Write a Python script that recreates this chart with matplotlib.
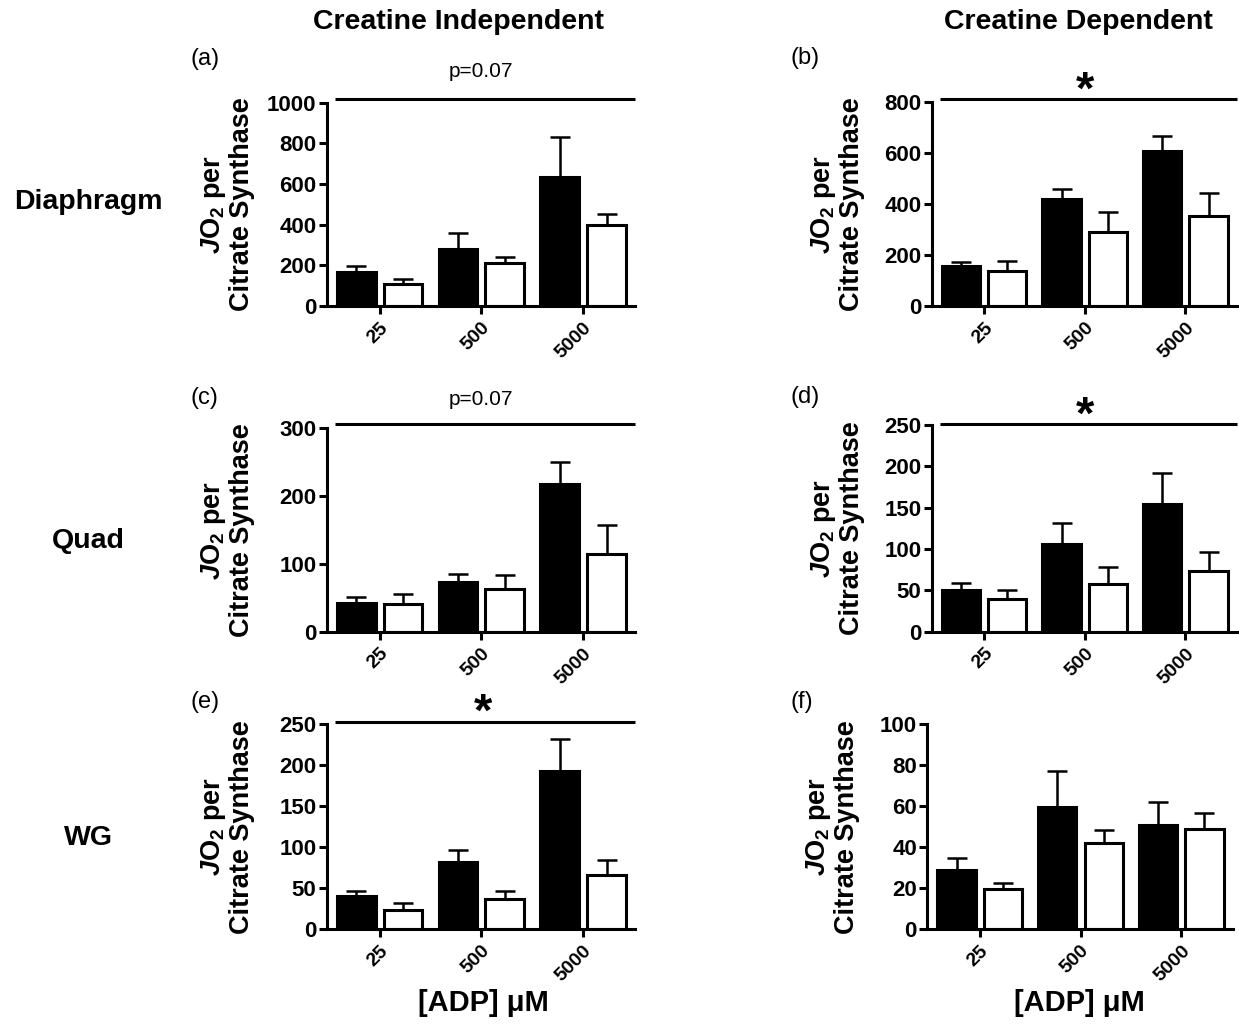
import matplotlib
matplotlib.use("Agg")
import matplotlib.pyplot as plt
import matplotlib.transforms as mtransforms
import numpy as np

plt.rcParams['font.family'] = ['Liberation Sans', 'DejaVu Sans']
plt.rcParams['mathtext.fontset'] = 'custom'
plt.rcParams['mathtext.rm'] = 'Liberation Sans:weight=bold'
plt.rcParams['mathtext.it'] = 'Liberation Sans:style=italic:weight=bold'
plt.rcParams['mathtext.bf'] = 'Liberation Sans:weight=bold'

# ---------------- data ----------------
adp_labels = ["25", "500", "5000"]

a_black = [169, 280, 633]
a_black_sem = [29, 81, 200]
a_white = [108, 213, 398]
a_white_sem = [23, 30, 54]

b_black = [158, 419, 609]
b_black_sem = [16, 40, 57]
b_white = [137, 289, 352]
b_white_sem = [40, 80, 93]

c_black = [42, 73, 218]
c_black_sem = [9, 12, 33]
c_white = [41, 63, 115]
c_white_sem = [15, 20, 43]

d_black = [51, 106, 154]
d_black_sem = [8.5, 25, 38]
d_white = [39.5, 58, 74]
d_white_sem = [11, 20, 23]

e_black = [40, 82, 193]
e_black_sem = [6, 14, 39]
e_white = [23, 37, 66]
e_white_sem = [9, 10, 18]

f_black = [28.7, 59.6, 50.8]
f_black_sem = [6, 17.6, 11]
f_white = [19.7, 42.2, 48.7]
f_white_sem = [3, 6.2, 8]

col_titles = ["Creatine Independent", "Creatine Dependent"]
row_titles = ["Diaphragm", "Quad", "WG"]
panel_letters = ["(a)", "(b)", "(c)", "(d)", "(e)", "(f)"]
y_limits = [1000, 800, 300, 250, 250, 100]
y_steps = [200, 200, 100, 50, 50, 20]
annotations = ["p=0.07", "*", "p=0.07", "*", "*", None]

panels = [
    (a_black, a_black_sem, a_white, a_white_sem),
    (b_black, b_black_sem, b_white, b_white_sem),
    (c_black, c_black_sem, c_white, c_white_sem),
    (d_black, d_black_sem, d_white, d_white_sem),
    (e_black, e_black_sem, e_white, e_white_sem),
    (f_black, f_black_sem, f_white, f_white_sem),
]

# ---------------- layout ----------------
W, H = 1239, 1027
fig = plt.figure(figsize=(W / 100, H / 100), dpi=100)

# axes rectangles in pixels: left, right, top, bottom
rects_px = [
    (326.7, 635.0, 102.7, 306.0),
    (931.7, 1236.7, 102.3, 306.0),
    (326.7, 635.0, 428.3, 631.7),
    (931.7, 1236.7, 425.0, 631.7),
    (326.7, 635.0, 724.3, 929.0),
    (927.3, 1232.7, 724.3, 929.0),
]
line_y_px = [99.3, 99.3, 424.0, 424.0, 721.7, None]

LW = 2.2
bw = 0.38
off = 0.23

for i, (rect, data) in enumerate(zip(rects_px, panels)):
    l, r, t, b = rect
    ax = fig.add_axes([l / W, 1 - b / H, (r - l) / W, (b - t) / H])
    blk, blk_e, wht, wht_e = data
    x = np.arange(len(adp_labels))
    ax.bar(x - off, blk, width=bw, color='black', edgecolor='black', linewidth=LW, zorder=2)
    ax.bar(x + off, wht, width=bw, color='white', edgecolor='black', linewidth=LW, zorder=2)
    ax.errorbar(x - off, blk, yerr=[np.zeros(3), blk_e], fmt='none', ecolor='black',
                elinewidth=1.8, capsize=7, capthick=1.8, zorder=3)
    ax.errorbar(x + off, wht, yerr=[np.zeros(3), wht_e], fmt='none', ecolor='black',
                elinewidth=1.8, capsize=7, capthick=1.8, zorder=3)
    ax.set_xlim(-0.52, 2.51)
    ax.set_ylim(0, y_limits[i])
    ax.set_yticks(np.arange(0, y_limits[i] + 1, y_steps[i]))
    ax.set_xticks(x)
    ax.set_xticklabels(adp_labels, rotation=45, ha='right', va='top',
                       rotation_mode='anchor', fontsize=14, fontweight='bold')
    for lab in ax.get_yticklabels():
        lab.set_fontweight('bold')
        lab.set_fontsize(16)
    for s in ['top', 'right']:
        ax.spines[s].set_visible(False)
    for s in ['left', 'bottom']:
        ax.spines[s].set_linewidth(LW)
    ax.tick_params(axis='both', width=LW, length=5.5, direction='out')
    ax.tick_params(axis='y', pad=2)
    ax.tick_params(axis='x', pad=4)

    col = i % 2
    lx = -0.324 if col == 0 else -0.311
    ax.text(lx, 0.5, "$\\mathit{J}$O$_2$ per\nCitrate Synthase", transform=ax.transAxes,
            rotation=90, ha='center', va='center', multialignment='center',
            fontsize=19.5, fontweight='bold', linespacing=1.05)

    if line_y_px[i] is not None:
        yfrac = (b - line_y_px[i]) / (b - t)
        trans = mtransforms.blended_transform_factory(ax.transData, ax.transAxes)
        ax.plot([-0.44, 2.51], [yfrac, yfrac], color='black', lw=LW, transform=trans,
                clip_on=False, solid_capstyle='butt')

# column titles
fig.text(458 / W, 1 - 22 / H, col_titles[0], ha='center', va='center', fontsize=20.5, fontweight='bold')
fig.text(1078 / W, 1 - 22 / H, col_titles[1], ha='center', va='center', fontsize=20.5, fontweight='bold')

# row titles
for name, yy in zip(row_titles, [202, 541, 838]):
    fig.text(88 / W, 1 - yy / H, name, ha='center', va='center', fontsize=20.5, fontweight='bold')

# panel letters
letter_pos = [(190, 59), (790, 58), (190, 398), (790, 397), (190, 702), (790, 702)]
for letter, (px, py) in zip(panel_letters, letter_pos):
    fig.text(px / W, 1 - py / H, letter, ha='left', va='center', fontsize=17)

# annotations
ann_pos = [(481.3, 71.7), (1085, 92), (481.3, 399.3), (1085, 417), (482.7, 714), None]
for ann, pos in zip(annotations, ann_pos):
    if ann is None:
        continue
    if ann == "*":
        fig.text(pos[0] / W, 1 - pos[1] / H, ann, ha='center', va='center', fontsize=34, fontweight='bold')
    else:
        fig.text(pos[0] / W, 1 - pos[1] / H, ann, ha='center', va='center', fontsize=15)

# x-axis titles
fig.text(483 / W, 1 - 1003 / H, "[ADP] \u03bcM", ha='center', va='center', fontsize=21, fontweight='bold')
fig.text(1079 / W, 1 - 1003 / H, "[ADP] \u03bcM", ha='center', va='center', fontsize=21, fontweight='bold')

fig.savefig("out.png", dpi=100)
